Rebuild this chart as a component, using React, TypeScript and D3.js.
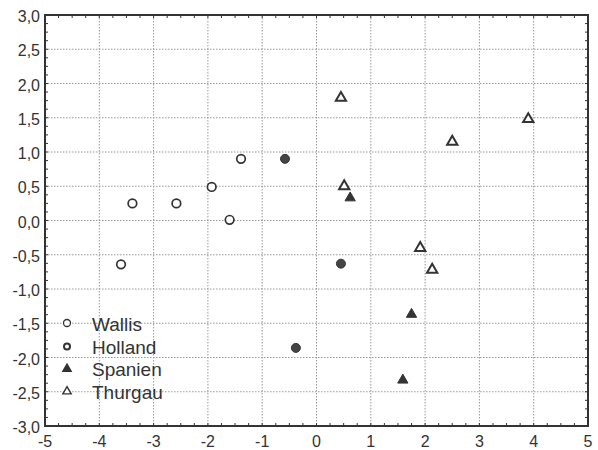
import React, { useEffect, useRef } from 'react';
import * as d3 from 'd3';

// Data (x, y)
const wallis = [
  [-3.6, -0.64], [-3.39, 0.25], [-2.58, 0.25], [-1.93, 0.49], [-1.6, 0.01], [-1.39, 0.9],
];
const holland = [
  [-0.58, 0.9], [0.45, -0.63], [-0.38, -1.86],
];
const spanien = [
  [0.62, 0.33], [1.75, -1.37], [1.59, -2.33],
];
const thurgau = [
  [0.45, 1.79], [3.9, 1.48], [2.5, 1.15], [0.51, 0.5], [1.91, -0.4], [2.13, -0.72],
];
const xTicks = [-5, -4, -3, -2, -1, 0, 1, 2, 3, 4, 5];
const yTicks = [3, 2.5, 2, 1.5, 1, 0.5, 0, -0.5, -1, -1.5, -2, -2.5, -3];
const legendNames = ['Wallis', 'Holland', 'Spanien', 'Thurgau'];

const App = () => {
  const svgRef = useRef(null);

  useEffect(() => {
    const svg = d3.select(svgRef.current);
    svg.selectAll('*').remove();

    const left = 45, right = 588, top = 15, bottom = 426;
    const x = d3.scaleLinear().domain([-5, 5]).range([left, right]);
    const y = d3.scaleLinear().domain([-3, 3]).range([bottom, top]);
    const ink = '#333';
    const font = 'Liberation Sans, Arial, sans-serif';

    svg.append('rect').attr('width', 598).attr('height', 450).attr('fill', '#fff');

    // dotted grid
    const grid = svg.append('g').attr('stroke', '#999').attr('stroke-width', 1).attr('stroke-dasharray', '1.5,1.5');
    grid.selectAll('.gx').data(xTicks.slice(1, -1)).enter().append('line')
      .attr('x1', (d) => x(d)).attr('x2', (d) => x(d)).attr('y1', top).attr('y2', bottom);
    grid.selectAll('.gy').data(yTicks.slice(1, -1)).enter().append('line')
      .attr('y1', (d) => y(d)).attr('y2', (d) => y(d)).attr('x1', left).attr('x2', right);

    // minor ticks inside the frame
    const minorX = d3.range(-5, 5.001, 0.25);
    const minorY = d3.range(-3, 3.001, 0.125);
    const ticks = svg.append('g').attr('stroke', ink).attr('stroke-width', 1);
    minorX.forEach((v) => {
      ticks.append('line').attr('x1', x(v)).attr('x2', x(v)).attr('y1', top).attr('y2', top + 3);
      ticks.append('line').attr('x1', x(v)).attr('x2', x(v)).attr('y1', bottom).attr('y2', bottom - 3);
    });
    minorY.forEach((v) => {
      ticks.append('line').attr('y1', y(v)).attr('y2', y(v)).attr('x1', left).attr('x2', left + 3);
      ticks.append('line').attr('y1', y(v)).attr('y2', y(v)).attr('x1', right).attr('x2', right - 3);
    });

    // frame
    svg.append('rect').attr('x', left).attr('y', top).attr('width', right - left).attr('height', bottom - top)
      .attr('fill', 'none').attr('stroke', ink).attr('stroke-width', 2);

    // tick labels
    const fmt = (d) => d.toFixed(1).replace('.', ',');
    svg.append('g').selectAll('text').data(yTicks).enter().append('text')
      .attr('x', left - 5).attr('y', (d) => y(d) + 7)
      .attr('text-anchor', 'end').attr('font-family', font)
      .attr('font-size', 16).attr('fill', ink).text(fmt);
    svg.append('g').selectAll('text').data(xTicks).enter().append('text')
      .attr('x', (d) => x(d)).attr('y', 447)
      .attr('text-anchor', 'middle').attr('font-family', font)
      .attr('font-size', 16).attr('fill', ink).text((d) => String(d));

    const tri = d3.symbol().type(d3.symbolTriangle).size(46);

    // points
    const pts = svg.append('g');
    pts.selectAll('.w').data(wallis).enter().append('circle')
      .attr('cx', (d) => x(d[0])).attr('cy', (d) => y(d[1])).attr('r', 4.3)
      .attr('fill', '#fff').attr('stroke', ink).attr('stroke-width', 1.7);
    pts.selectAll('.h').data(holland).enter().append('circle')
      .attr('cx', (d) => x(d[0])).attr('cy', (d) => y(d[1])).attr('r', 4.5)
      .attr('fill', '#444').attr('stroke', ink).attr('stroke-width', 1);
    pts.selectAll('.s').data(spanien).enter().append('path')
      .attr('d', tri).attr('transform', (d) => `translate(${x(d[0])},${y(d[1])})`)
      .attr('fill', ink).attr('stroke', ink).attr('stroke-width', 1);
    pts.selectAll('.t').data(thurgau).enter().append('path')
      .attr('d', tri).attr('transform', (d) => `translate(${x(d[0])},${y(d[1])})`)
      .attr('fill', '#fff').attr('stroke', ink).attr('stroke-width', 2);

    // legend
    const lg = svg.append('g');
    legendNames.forEach((name, i) => {
      const ly = 324 + i * 22.5;
      const mx = 67;
      if (i === 0) {
        lg.append('circle').attr('cx', mx).attr('cy', ly - 1).attr('r', 3.5)
          .attr('fill', '#fff').attr('stroke', ink).attr('stroke-width', 1.3);
      } else if (i === 1) {
        lg.append('circle').attr('cx', mx).attr('cy', ly).attr('r', 3)
          .attr('fill', '#fff').attr('stroke', ink).attr('stroke-width', 2);
      } else {
        lg.append('path').attr('d', d3.symbol().type(d3.symbolTriangle).size(30))
          .attr('transform', `translate(${mx},${ly})`)
          .attr('fill', i === 2 ? ink : '#fff').attr('stroke', ink).attr('stroke-width', 1.4);
      }
      lg.append('text').attr('x', 92).attr('y', ly + 7)
        .attr('font-family', font).attr('font-size', 19)
        .attr('fill', ink).text(name);
    });
  }, []);

  return <svg ref={svgRef} width={598} height={450} style={{ position: 'absolute', left: 0, top: 0 }} />;
};

export default App;
